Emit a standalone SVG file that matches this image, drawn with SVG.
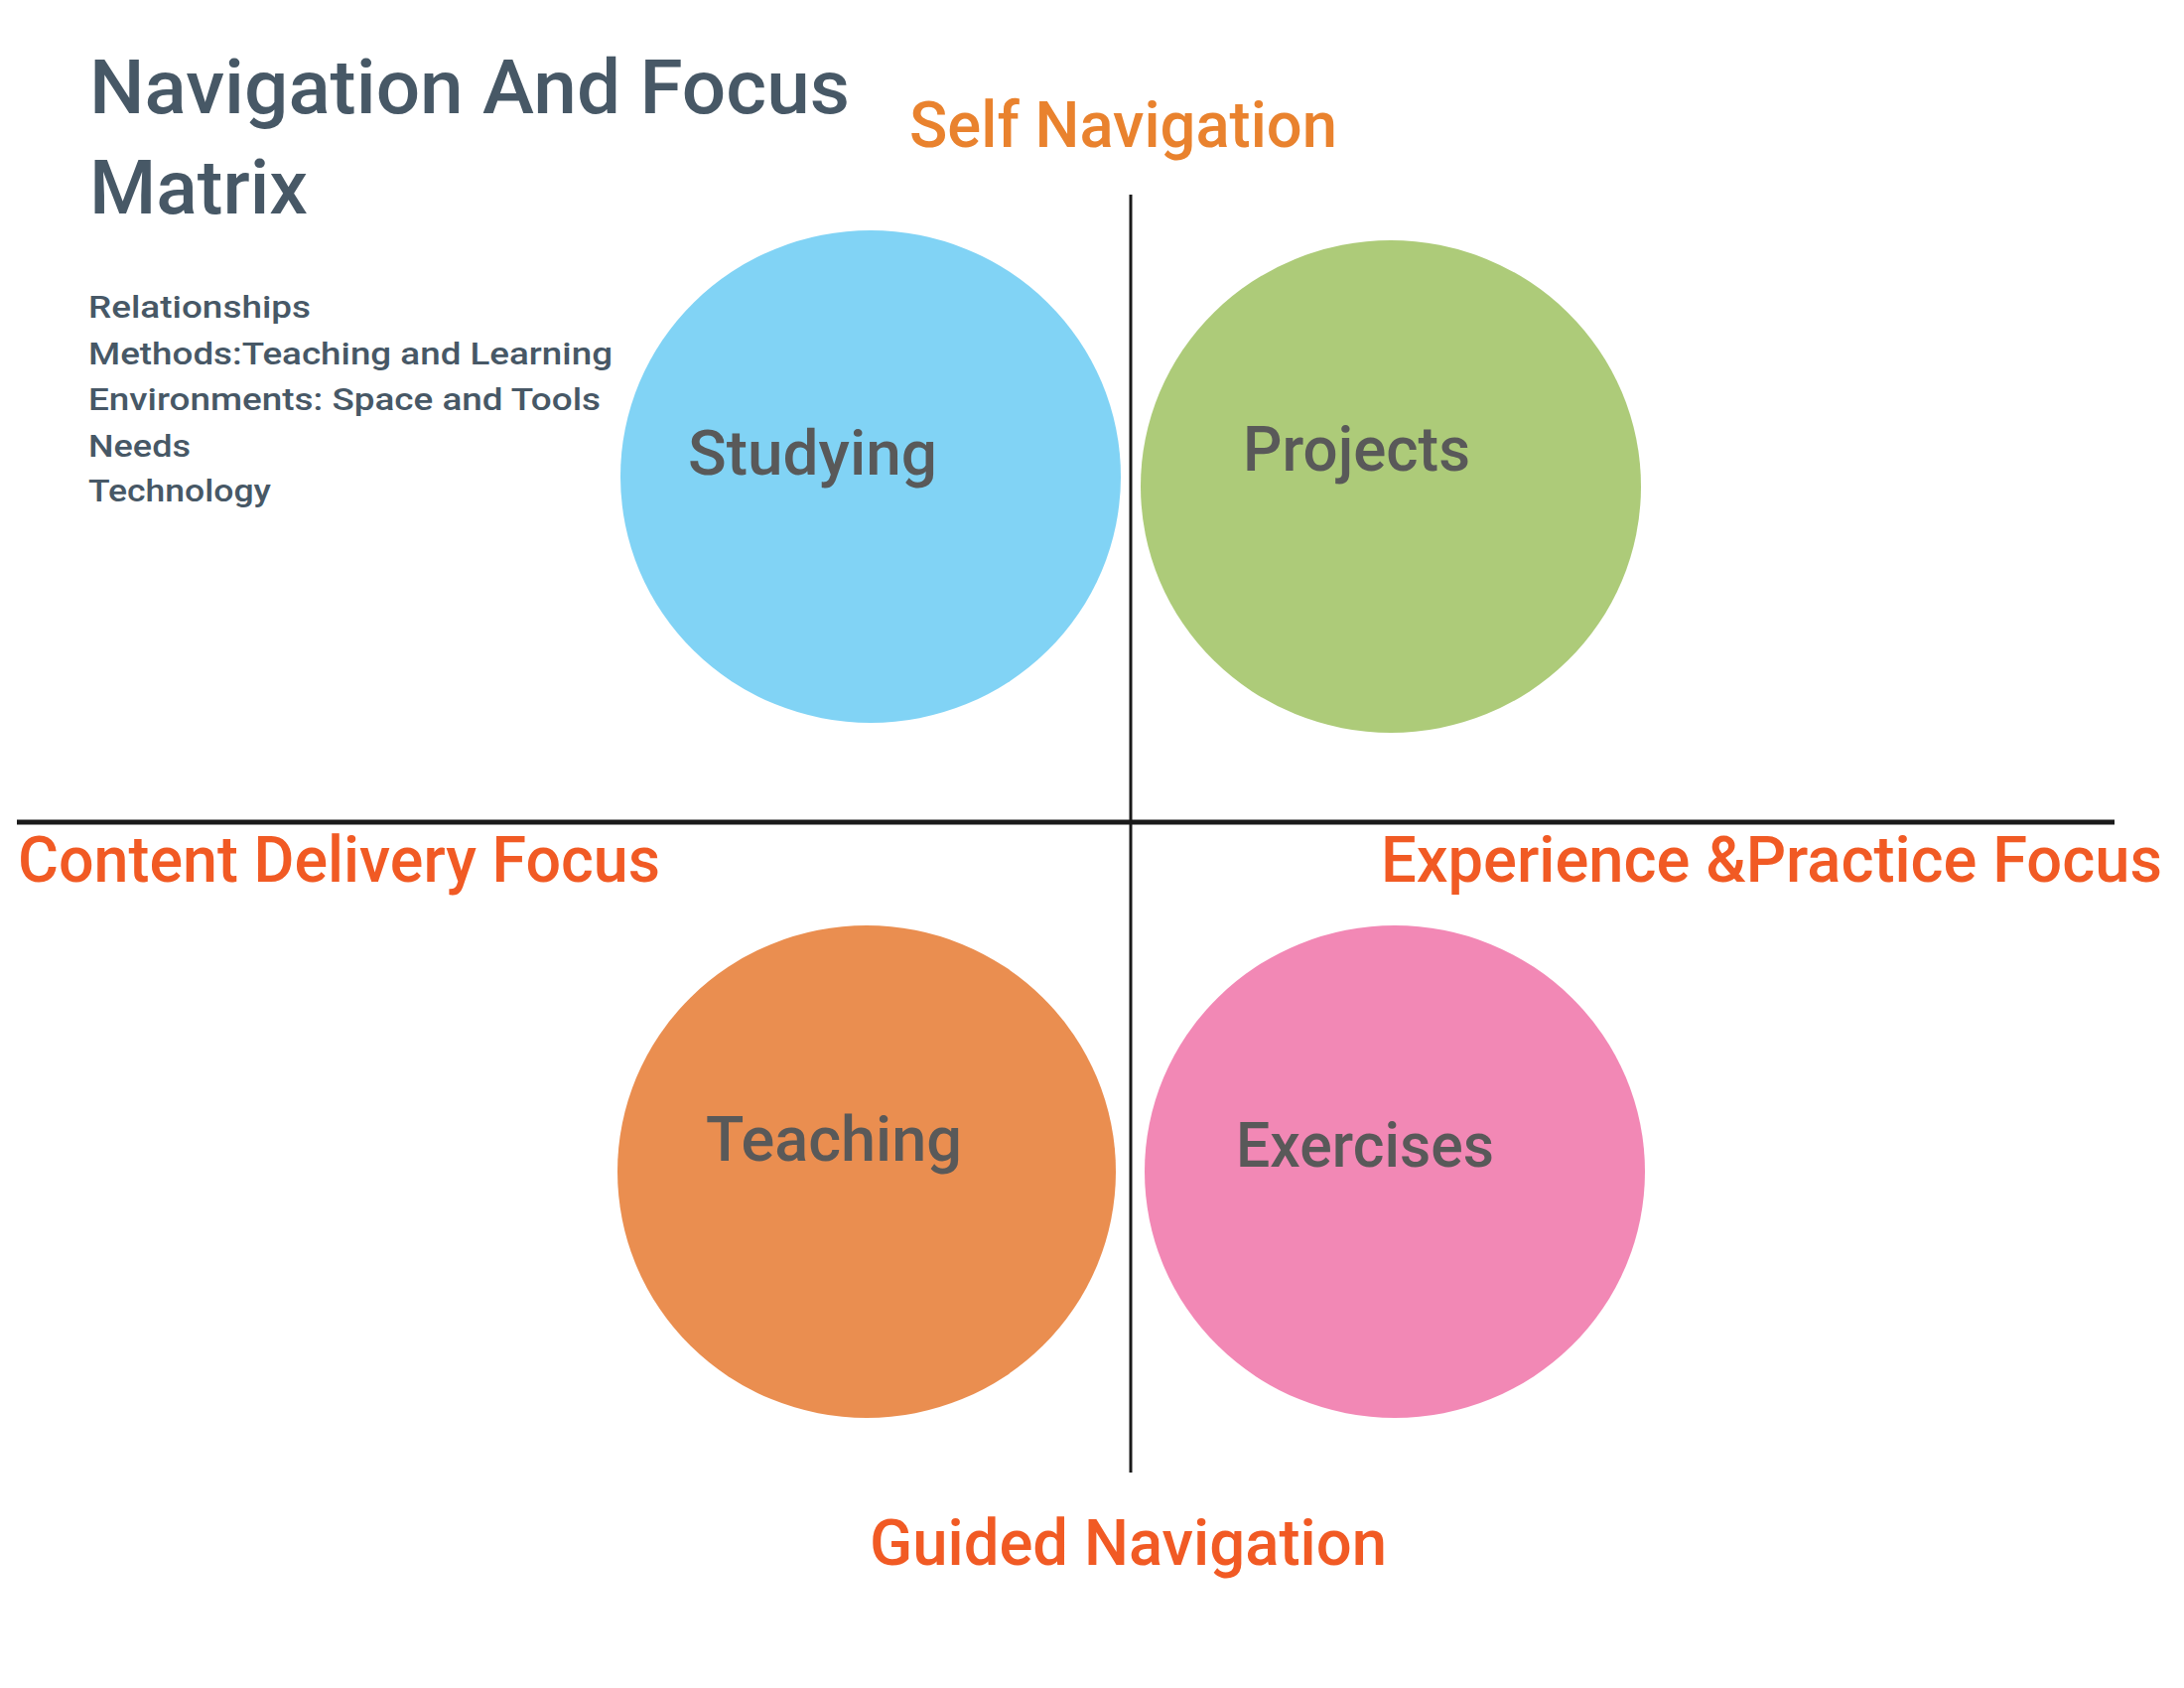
<svg xmlns="http://www.w3.org/2000/svg" width="2200" height="1700" viewBox="0 0 2200 1700">
<style>
text{font-family:Roboto,"Liberation Sans",Arial,sans-serif;font-weight:500;}
.title{fill:#475866;font-size:76px;}
.list{fill:#475866;font-size:31px;}
.node-label{fill:#595959;font-size:63px;}
.axis-top{fill:#E9822E;font-size:65px;}
.axis{fill:#F15A24;font-size:64px;}
.line{stroke:#1a1a1a;fill:none;}
</style>
<rect width="2200" height="1700" fill="#ffffff"/>
<g id="title">
<text class="title" x="90" y="114" textLength="766" lengthAdjust="spacingAndGlyphs">Navigation And Focus</text>
<text class="title" x="90" y="215" textLength="220" lengthAdjust="spacingAndGlyphs">Matrix</text>
</g>
<g id="legend-list">
<text class="list" x="89" y="320" textLength="224" lengthAdjust="spacingAndGlyphs">Relationships</text>
<text class="list" x="89" y="367" textLength="528" lengthAdjust="spacingAndGlyphs">Methods:Teaching and Learning</text>
<text class="list" x="89" y="413" textLength="516" lengthAdjust="spacingAndGlyphs">Environments: Space and Tools</text>
<text class="list" x="89" y="460" textLength="103" lengthAdjust="spacingAndGlyphs">Needs</text>
<text class="list" x="89" y="505" textLength="184" lengthAdjust="spacingAndGlyphs">Technology</text>
</g>
<g id="connectors">
<line class="line" x1="1139" y1="196" x2="1139" y2="1483" stroke-width="3"/>
<line class="line" x1="17" y1="828" x2="2130" y2="828" stroke-width="5"/>
</g>
<g id="node-studying">
<ellipse cx="877" cy="480" rx="252" ry="248" fill="#81D3F5"/>
<text class="node-label" x="693" y="478" textLength="251" lengthAdjust="spacingAndGlyphs">Studying</text>
</g>
<g id="node-projects">
<ellipse cx="1401" cy="490" rx="252" ry="248" fill="#ADCB79"/>
<text class="node-label" x="1252" y="474" textLength="229" lengthAdjust="spacingAndGlyphs">Projects</text>
</g>
<g id="node-teaching">
<ellipse cx="873" cy="1180" rx="251" ry="248" fill="#EA8E50"/>
<text class="node-label" x="711" y="1169" textLength="258" lengthAdjust="spacingAndGlyphs">Teaching</text>
</g>
<g id="node-exercises">
<ellipse cx="1405" cy="1180" rx="252" ry="248" fill="#F288B5"/>
<text class="node-label" x="1245" y="1175" textLength="260" lengthAdjust="spacingAndGlyphs">Exercises</text>
</g>
<g id="axis-labels">
<text class="axis-top" x="916" y="148" textLength="431" lengthAdjust="spacingAndGlyphs">Self Navigation</text>
<text class="axis" x="18" y="888" textLength="647" lengthAdjust="spacingAndGlyphs">Content Delivery Focus</text>
<text class="axis" x="1391" y="888" textLength="787" lengthAdjust="spacingAndGlyphs">Experience &amp;Practice Focus</text>
<text class="axis" x="876" y="1576" textLength="521" lengthAdjust="spacingAndGlyphs">Guided Navigation</text>
</g>
</svg>
